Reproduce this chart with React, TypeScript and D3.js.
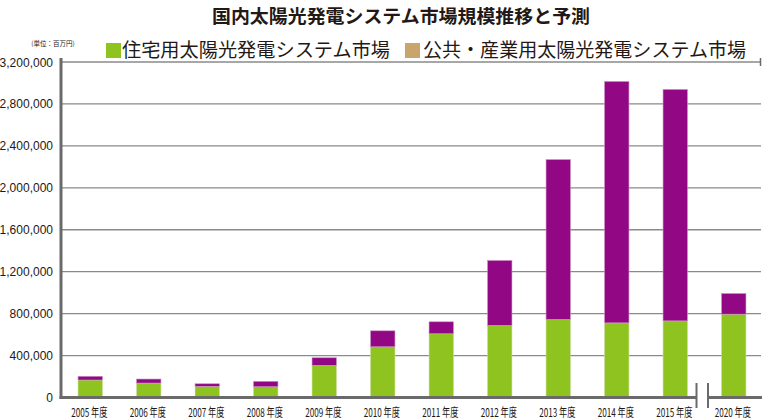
import React from "react";
import * as d3 from "d3";

const categories = [
  "2005 年度", "2006 年度", "2007 年度", "2008 年度", "2009 年度", "2010 年度",
  "2011 年度", "2012 年度", "2013 年度", "2014 年度", "2015 年度", "2020 年度",
];
const residential = [167000, 138000, 107000, 103000, 307000, 484000, 608000, 688000, 745000, 712000, 731000, 795000];
const publicIndustrial = [35000, 38000, 24000, 51000, 72000, 152000, 114000, 619000, 1524000, 2302000, 2207000, 197000];
const yTicks = [0, 400000, 800000, 1200000, 1600000, 2000000, 2400000, 2800000, 3200000];
const title = "国内太陽光発電システム市場規模推移と予測";
const seriesNames = ["住宅用太陽光発電システム市場", "公共・産業用太陽光発電システム市場"];
const unitLabel = "(単位：百万円)";

const W = 762;
const H = 420;
const JP = "'Noto Sans CJK JP', 'Noto Sans', sans-serif";
const GREEN = "#8fc31f";
const PURPLE = "#920783";
const TAN = "#c9a46c";
const TEXT = "#231815";

export default function App() {
  const left = 61;
  const x = d3.scaleBand<string>().domain(categories).range([left, 763]).padding(0);
  const y = d3.scaleLinear().domain([0, 3200000]).range([397.5, 62]);
  const bw = x.bandwidth() * 0.417;
  const fmt = d3.format(",");
  const breakL = 696.5;
  const breakR = 708;

  return (
    <div style={{ position: "absolute", left: 0, top: 0 }}>
      <svg width={W} height={H} style={{ display: "block", background: "#fff" }}>
        <text x={401} y={23} textAnchor="middle" fontFamily={JP} fontWeight="bold" fontSize={18.5}
          fill={TEXT} textLength={378} lengthAdjust="spacingAndGlyphs">{title}</text>

        <text x={53} y={46} textAnchor="middle" fontFamily={JP} fontSize={6.5} fill={TEXT}>{unitLabel}</text>

        <rect x={106} y={43} width={15} height={15} fill={GREEN} />
        <text x={122} y={57} fontFamily={JP} fontSize={19} fill={TEXT} textLength={268} lengthAdjust="spacingAndGlyphs">{seriesNames[0]}</text>
        <rect x={405} y={43} width={15} height={15} fill={TAN} />
        <text x={423} y={57} fontFamily={JP} fontSize={19} fill={TEXT} textLength={323} lengthAdjust="spacingAndGlyphs">{seriesNames[1]}</text>

        {yTicks.filter((t) => t > 0).map((t) => (
          <line key={"g" + t} x1={left} x2={761} y1={y(t)} y2={y(t)} stroke="#8a8a8a" strokeWidth={1.3} />
        ))}
        <line x1={760.5} x2={760.5} y1={58} y2={66} stroke="#6a6a6a" strokeWidth={1.5} />

        {yTicks.map((t) => (
          <text key={"t" + t} x={53} y={y(t) + 4.5} textAnchor="end" fontFamily="'Liberation Sans', Arial, sans-serif"
            fontSize={12} fill={TEXT}>{fmt(t)}</text>
        ))}

        {categories.map((c, i) => {
          const cx = (x(c) as number) + x.bandwidth() / 2;
          const r = residential[i];
          const p = publicIndustrial[i];
          return (
            <g key={c}>
              <rect x={cx - bw / 2} y={y(r)} width={bw} height={y(0) - y(r)} fill={GREEN}
                stroke="#c8dc9a" strokeWidth={0.6} />
              <rect x={cx - bw / 2} y={y(r + p)} width={bw} height={y(r) - y(r + p)} fill={PURPLE}
                stroke="#c98fc3" strokeWidth={0.6} />
              <text transform={`translate(${cx - 1},416.5) scale(0.68,1)`} textAnchor="middle" fontFamily={JP}
                fontSize={12} fill={TEXT}>{c}</text>
            </g>
          );
        })}

        <line x1={left} x2={left} y1={58} y2={399} stroke="#6a6a6a" strokeWidth={3} />
        <line x1={left - 1.5} x2={breakL} y1={397.5} y2={397.5} stroke="#6a6a6a" strokeWidth={3} />
        <line x1={breakR} x2={762} y1={397.5} y2={397.5} stroke="#6a6a6a" strokeWidth={3} />
        <line x1={breakL} x2={breakL} y1={383} y2={408} stroke="#6a6a6a" strokeWidth={2} />
        <line x1={breakR} x2={breakR} y1={383} y2={408} stroke="#6a6a6a" strokeWidth={2} />
      </svg>
    </div>
  );
}
